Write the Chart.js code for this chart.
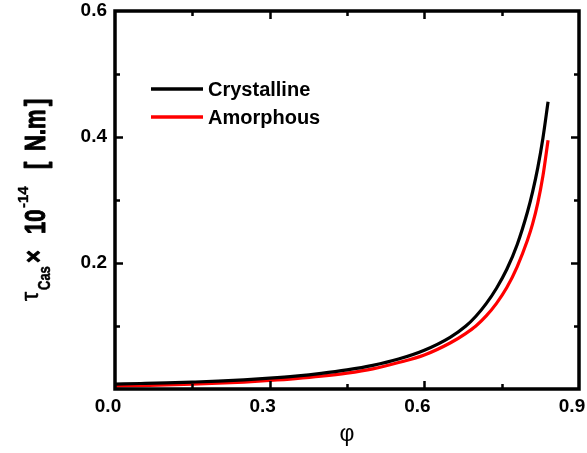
<!DOCTYPE html>
<html>
<head>
<meta charset="utf-8">
<script src="https://cdn.jsdelivr.net/npm/chart.js@4.4.1/dist/chart.umd.min.js"></script>
<style>
  html, body { margin: 0; padding: 0; background: #fff; }
  #wrap { width: 587px; height: 453px; position: relative; }
</style>
</head>
<body>
<div id="wrap"><canvas id="c" width="587" height="453"></canvas></div>
<script>
// ---- data ----
const phi = [0, 0.05, 0.1, 0.15, 0.2, 0.25, 0.3, 0.35, 0.4, 0.45, 0.5, 0.55, 0.6, 0.65, 0.68, 0.7, 0.72, 0.74, 0.76, 0.78, 0.8, 0.81, 0.82, 0.83, 0.84];
const crystalline = [0.0078, 0.0087, 0.0097, 0.0110, 0.0125, 0.0145, 0.0172, 0.0205, 0.0248, 0.0303, 0.0375, 0.0475, 0.0615, 0.0820, 0.0995, 0.1155, 0.1355, 0.160, 0.190, 0.229, 0.281, 0.313, 0.351, 0.398, 0.456];
const amorphous = [0.0045, 0.0055, 0.0066, 0.0078, 0.0092, 0.0110, 0.0135, 0.0165, 0.0203, 0.0252, 0.0320, 0.0420, 0.0540, 0.0730, 0.0880, 0.100, 0.116, 0.136, 0.161, 0.194, 0.236, 0.262, 0.295, 0.338, 0.395];
const seriesNames = ['Crystalline', 'Amorphous'];
const xTicks = [0, 0.3, 0.6, 0.9];
const yTicks = [0.2, 0.4, 0.6];

const FONT = '"Liberation Sans", Arial, sans-serif';

function pts(ys) { return phi.map((x, i) => ({ x: x, y: ys[i] })); }

const framePlugin = {
  id: 'frame',
  afterDatasetsDraw(chart) {
    const { ctx, chartArea: a, scales } = chart;
    const xs = scales.x, ys = scales.y;
    ctx.save();
    ctx.strokeStyle = '#000';
    ctx.lineWidth = 3.5;
    ctx.lineCap = 'butt';
    ctx.strokeRect(a.left, a.top, a.right - a.left, a.bottom - a.top);
    ctx.lineWidth = 2.5;
    // y ticks (inward, both sides)
    for (let v = 0.1; v < 0.6 - 1e-9; v += 0.1) {
      const major = Math.abs(v / 0.2 - Math.round(v / 0.2)) < 1e-6;
      const len = major ? 8 : 5;
      const y = Math.round(ys.getPixelForValue(v)) + 0.5;
      ctx.beginPath();
      ctx.moveTo(a.left, y); ctx.lineTo(a.left + len, y);
      ctx.moveTo(a.right, y); ctx.lineTo(a.right - len, y);
      ctx.stroke();
    }
    // x ticks (inward, both sides)
    for (let v = 0.15; v < 0.9 - 1e-9; v += 0.15) {
      const major = Math.abs(v / 0.3 - Math.round(v / 0.3)) < 1e-6;
      const len = major ? 8 : 5;
      const x = Math.round(xs.getPixelForValue(v)) + 0.5;
      ctx.beginPath();
      ctx.moveTo(x, a.bottom); ctx.lineTo(x, a.bottom - len);
      ctx.moveTo(x, a.top); ctx.lineTo(x, a.top + len);
      ctx.stroke();
    }
    ctx.restore();
  },
  afterDraw(chart) {
    const { ctx } = chart;
    // legend
    ctx.save();
    const ds = chart.data.datasets;
    const rows = [89, 117];
    ds.forEach((d, i) => {
      const y = rows[i];
      ctx.strokeStyle = d.borderColor;
      ctx.lineWidth = 3.5;
      ctx.beginPath();
      ctx.moveTo(151, y); ctx.lineTo(203, y);
      ctx.stroke();
      ctx.fillStyle = '#000';
      ctx.font = 'bold 20px ' + FONT;
      ctx.textBaseline = 'middle';
      ctx.textAlign = 'left';
      ctx.fillText(d.label, 208, y + 1);
    });
    ctx.restore();

    // rotated y-axis title: τ_Cas × 10^-14 [ N.m ]
    const pieces = [
      { t: 'τ',   font: '23px ' + FONT,        start: 301, base: 38, s: 1.0,  w: 0.6 },
      { t: 'Cas', font: 'bold 13px ' + FONT,   start: 290, base: 50, s: 1.3,  w: 0.4 },
      { t: '×',   font: 'bold 22px ' + FONT,   start: 263, base: 42, s: 1.15, w: 0.8 },
      { t: '10',  font: 'bold 22px ' + FONT,   start: 234, base: 45, s: 1.3,  w: 0.8 },
      { t: '-14', font: 'bold 15px ' + FONT,   start: 208, base: 28, s: 1.0,  w: 0.4 },
      { t: '[',   font: 'bold 22px ' + FONT,   start: 169, base: 46, s: 1.3,  w: 0.8 },
      { t: 'N.m', font: 'bold 22px ' + FONT,   start: 151, base: 45, s: 1.3,  w: 0.8 },
      { t: ']',   font: 'bold 22px ' + FONT,   start: 106, base: 46, s: 1.3,  w: 0.8 }
    ];
    ctx.save();
    ctx.fillStyle = '#000';
    ctx.strokeStyle = '#000';
    ctx.textBaseline = 'alphabetic';
    ctx.textAlign = 'left';
    ctx.lineJoin = 'round';
    pieces.forEach(p => {
      ctx.save();
      ctx.translate(p.base, p.start);
      ctx.rotate(-Math.PI / 2);
      ctx.scale(1, p.s);
      ctx.font = p.font;
      ctx.fillText(p.t, 0, 0);
      ctx.lineWidth = p.w;
      ctx.strokeText(p.t, 0, 0);
      ctx.restore();
    });
    ctx.restore();
  }
};

new Chart(document.getElementById('c'), {
  type: 'line',
  data: {
    datasets: [
      { label: seriesNames[0], data: pts(crystalline), borderColor: '#000000', borderWidth: 3.2, pointRadius: 0, cubicInterpolationMode: 'monotone', fill: false },
      { label: seriesNames[1], data: pts(amorphous), borderColor: '#ff0000', borderWidth: 3.2, pointRadius: 0, cubicInterpolationMode: 'monotone', fill: false }
    ]
  },
  options: {
    responsive: false,
    animation: false,
    devicePixelRatio: 1,
    layout: { padding: { top: 11, right: 8, left: 0, bottom: 0 } },
    plugins: { legend: { display: false }, tooltip: { enabled: false } },
    scales: {
      x: {
        type: 'linear', min: 0, max: 0.9,
        grid: { display: false, drawTicks: false },
        border: { display: false },
        afterBuildTicks(s) { s.ticks = xTicks.map(v => ({ value: v })); },
        afterFit(s) { s.height = 64; s.paddingLeft = 0; s.paddingRight = 0; },
        ticks: {
          color: '#000', padding: 6, labelOffset: -7, maxRotation: 0,
          font: { family: FONT, size: 19, weight: 'bold' },
          callback: v => v.toFixed(1)
        },
        title: { display: true, text: 'φ', color: '#000', font: { family: FONT, size: 23 }, padding: { top: 0, bottom: 5 } }
      },
      y: {
        type: 'linear', min: 0, max: 0.6,
        grid: { display: false, drawTicks: false },
        border: { display: false },
        afterBuildTicks(s) { s.ticks = yTicks.map(v => ({ value: v })); },
        afterFit(s) { s.width = 115; s.paddingTop = 0; s.paddingBottom = 0; },
        ticks: {
          color: '#000', padding: 8,
          font: { family: FONT, size: 19, weight: 'bold' },
          callback: v => v.toFixed(1)
        }
      }
    }
  },
  plugins: [framePlugin]
});
</script>
</body>
</html>
